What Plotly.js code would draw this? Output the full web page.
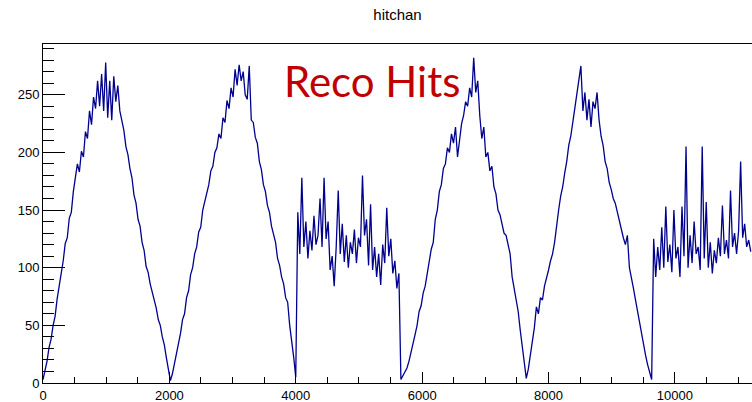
<!DOCTYPE html>
<html>
<head>
<meta charset="utf-8">
<script src="https://cdn.plot.ly/plotly-3.0.1.min.js"></script>
<style>html,body{margin:0;padding:0;background:#fff;}#chart{width:752px;height:402px;}</style>
</head>
<body>
<div id="chart"></div>
<script>
// Histogram "hitchan": reco hits per channel in 32-channel bins
const binWidth = 32;
const hits = [
  3, 11, 19, 31, 38, 50, 58, 73, 84, 99,
  106, 121, 126, 143, 148, 166, 178, 190, 183, 201,
  196, 218, 212, 236, 224, 248, 238, 262, 240, 268,
  236, 278, 230, 262, 228, 266, 244, 258, 236, 228,
  219, 205, 198, 186, 178, 163, 156, 142, 136, 122,
  115, 101, 96, 86, 79, 70, 65, 55, 50, 40,
  33, 22, 12, 2, 8, 17, 24, 36, 43, 55,
  60, 74, 80, 94, 100, 112, 118, 131, 135, 150,
  157, 166, 172, 184, 188, 200, 204, 216, 212, 230,
  226, 245, 238, 256, 248, 272, 258, 276, 262, 270,
  250, 246, 275, 228, 226, 213, 208, 192, 185, 172,
  166, 154, 148, 136, 128, 122, 108, 102, 92, 86,
  74, 70, 50, 38, 22, 5, 148, 112, 178, 118,
  140, 108, 132, 115, 145, 120, 128, 160, 118, 178,
  125, 140, 98, 110, 84, 118, 167, 112, 138, 105,
  128, 100, 122, 112, 133, 104, 126, 118, 180, 128,
  142, 102, 155, 98, 118, 92, 112, 85, 120, 104,
  152, 110, 125, 95, 106, 82, 95, 3, 6, 9,
  13, 19, 26, 33, 42, 50, 62, 67, 78, 84,
  95, 102, 116, 122, 142, 150, 166, 172, 186, 190,
  204, 200, 216, 208, 222, 196, 212, 225, 232, 244,
  240, 256, 248, 282, 252, 262, 232, 212, 222, 196,
  200, 184, 188, 170, 164, 150, 146, 138, 130, 128,
  120, 112, 92, 82, 72, 62, 46, 32, 18, 4,
  12, 24, 36, 48, 66, 60, 74, 72, 84, 90,
  98, 106, 112, 122, 138, 150, 162, 170, 182, 192,
  206, 214, 226, 238, 250, 262, 275, 236, 252, 228,
  246, 222, 244, 238, 252, 228, 214, 206, 192, 186,
  174, 168, 160, 156, 148, 142, 134, 126, 120, 128,
  100, 92, 82, 72, 62, 54, 42, 34, 24, 16,
  8, 3, 125, 92, 118, 98, 135, 100, 153, 105,
  120, 96, 150, 108, 118, 92, 153, 110, 205, 100,
  128, 104, 140, 112, 118, 98, 205, 108, 157, 100,
  122, 95, 115, 104, 126, 110, 154, 112, 124, 108,
  167, 118, 130, 112, 132, 192, 126, 138, 118, 124,
  114
];
const xRange = [0, 11220];
const yRange = [0, 294];
const xTicks = [0, 2000, 4000, 6000, 8000, 10000];
const yTicks = [0, 50, 100, 150, 200, 250];
const titleText = "hitchan";
const labelText = "Reco Hits";
const labelPos = {x: 5205, y: 262};

// bin positions of the histogram outline
const xs = hits.map((v, i) => i * binWidth);
const ys = hits.slice();

const tickFont = {family: "Liberation Sans, Arial, sans-serif", size: 13, color: "#000"};

const trace = {
  type: "scatter",
  mode: "lines",
  x: xs,
  y: ys,
  line: {shape: "linear", color: "#00008f", width: 1.3},
  hoverinfo: "skip"
};

const layout = {
  width: 752,
  height: 402,
  paper_bgcolor: "#fff",
  plot_bgcolor: "#fff",
  margin: {l: 43, r: 0, t: 44, b: 19, pad: 0},
  showlegend: false,
  title: {
    text: titleText,
    x: 0.5, xref: "paper", xanchor: "center",
    y: 1 - 15 / 402, yref: "container", yanchor: "middle",
    font: {family: "Liberation Sans, Arial, sans-serif", size: 15, color: "#000"}
  },
  xaxis: {
    range: xRange,
    tickvals: xTicks,
    ticktext: xTicks.map(String),
    ticks: "inside", ticklen: 11, tickwidth: 1, tickcolor: "#000",
    minor: {dtick: 500, tick0: 0, ticks: "inside", ticklen: 6, tickwidth: 1, tickcolor: "#000", showgrid: false},
    showline: true, linecolor: "#000", linewidth: 1, mirror: true,
    showgrid: false, zeroline: false,
    tickfont: tickFont
  },
  yaxis: {
    range: yRange,
    tickvals: yTicks,
    ticktext: yTicks.map(String),
    ticks: "inside", ticklen: 22, tickwidth: 1, tickcolor: "#000",
    minor: {dtick: 10, tick0: 0, ticks: "inside", ticklen: 11, tickwidth: 1, tickcolor: "#000", showgrid: false},
    showline: true, linecolor: "#000", linewidth: 1, mirror: false,
    showgrid: false, zeroline: false,
    tickfont: tickFont
  },
  annotations: [{
    text: labelText,
    x: labelPos.x, y: labelPos.y, xref: "x", yref: "y",
    xanchor: "center", yanchor: "middle",
    showarrow: false,
    font: {family: "Lato, 'Open Sans', sans-serif", size: 42, color: "#c00000"}
  }]
};

Plotly.newPlot("chart", [trace], layout, {staticPlot: true, displayModeBar: false});
</script>
</body>
</html>
